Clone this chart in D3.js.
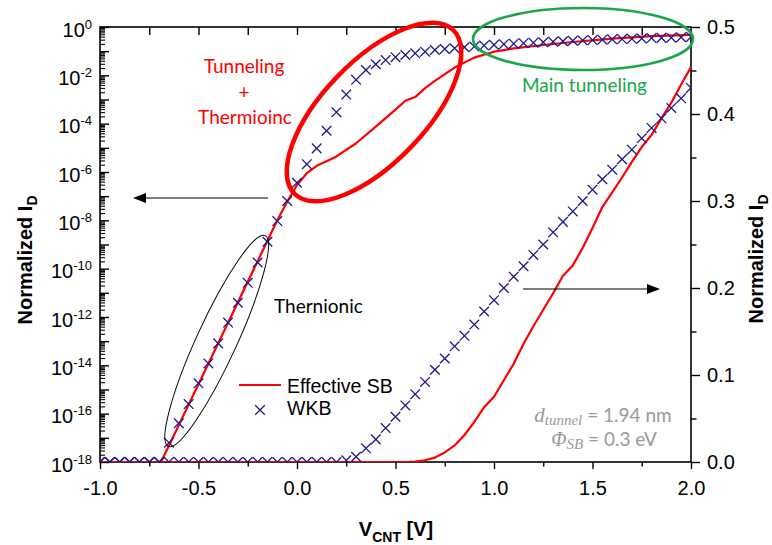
<!DOCTYPE html>
<html>
<head>
<meta charset="utf-8">
<script src="https://cdn.jsdelivr.net/npm/d3@7"></script>
<style>
  html, body { margin: 0; padding: 0; background: #fff; }
  svg { display: block; }
</style>
</head>
<body>
<svg id="chart" width="772" height="545"></svg>
<script>
// ---------------- data ----------------
const wkbV = [-1.00,-0.95,-0.90,-0.85,-0.80,-0.75,-0.70,-0.65,-0.60,-0.55,-0.50,-0.45,-0.40,-0.35,-0.30,-0.25,-0.20,-0.15,-0.10,-0.05,
  0.00,0.05,0.10,0.15,0.20,0.25,0.30,0.35,0.40,0.45,0.50,0.55,0.60,0.65,0.70,0.75,0.80,0.85,0.90,0.95,
  1.00,1.05,1.10,1.15,1.20,1.25,1.30,1.35,1.40,1.45,1.50,1.55,1.60,1.65,1.70,1.75,1.80,1.85,1.90,1.95,2.00];
// WKB, log scale (left axis)
const wkbLog = [1e-18,1e-18,1e-18,1e-18,1e-18,1e-18,1e-18,6.3e-18,4.0e-17,2.5e-16,1.8e-15,1.2e-14,8.1e-14,5.9e-13,3.9e-12,2.6e-11,1.8e-10,1.3e-9,9.3e-9,6.3e-8,
  3.6e-7,2.1e-6,9.5e-6,5.1e-5,3.0e-4,1.6e-3,6.5e-3,0.0166,0.0288,0.0427,0.0562,0.0692,0.0813,0.0955,0.112,0.123,0.132,0.145,0.155,0.170,
  0.182,0.195,0.204,0.214,0.224,0.234,0.245,0.257,0.269,0.279,0.288,0.299,0.309,0.316,0.324,0.335,0.347,0.355,0.363,0.376,0.389];
// WKB, linear scale (right axis)
const wkbLin = [0,0,0,0,0,0,0,0,0,0,0,0,0,0,0,0,0,0,0,0,
  0,0,0,0,0,0.002,0.006,0.0157,0.026,0.039,0.052,0.065,0.078,0.092,0.106,0.119,0.133,0.145,0.158,0.173,
  0.186,0.200,0.213,0.225,0.238,0.250,0.264,0.276,0.288,0.300,0.313,0.325,0.336,0.348,0.359,0.372,0.384,0.395,0.407,0.418,0.430];

// Effective SB, log scale (left axis)
const sbLogV = [-0.69,-0.10,-0.05,0.00,0.05,0.10,0.15,0.20,0.30,0.40,0.50,0.55,0.60,0.65,0.70,0.80,0.90,1.00,1.10,1.25,1.40,1.60,1.80,2.00];
const sbLog  = [1e-18,1.0e-8,5.9e-8,2.9e-7,8.9e-7,1.8e-6,2.8e-6,4.4e-6,1.55e-5,7.6e-5,3.8e-4,8.9e-4,1.26e-3,2.95e-3,5.9e-3,0.021,0.054,0.095,0.13,0.18,0.24,0.33,0.42,0.47];
// Effective SB, linear scale (right axis)
const sbLinV = [-1.00,0.55,0.60,0.65,0.70,0.75,0.80,0.85,0.90,0.95,1.00,1.05,1.10,1.15,1.20,1.25,1.30,1.35,1.40,1.45,1.50,1.55,1.60,1.65,1.70,1.75,1.80,1.85,1.90,1.95,2.00];
const sbLin  = [0,0,0.0005,0.002,0.005,0.011,0.019,0.031,0.046,0.063,0.075,0.094,0.113,0.136,0.156,0.175,0.194,0.214,0.226,0.246,0.269,0.293,0.310,0.327,0.345,0.362,0.376,0.395,0.413,0.434,0.454];

const xTicks = [-1.0,-0.5,0.0,0.5,1.0,1.5,2.0];
const xMinor = [-0.75,-0.25,0.25,0.75,1.25,1.75];
const xTop   = [-0.75,-0.5,-0.25,0,0.25,0.5,0.75,1.0,1.25,1.5,1.75];
const yLeftExp = [0,-1,-2,-3,-4,-5,-6,-7,-8,-9,-10,-11,-12,-13,-14,-15,-16,-17,-18];
const yRightTicks = [0.0,0.1,0.2,0.3,0.4,0.5];
const yRightMinor = [0.05,0.15,0.25,0.35,0.45];

// ---------------- layout ----------------
const L = 100, R = 691, T = 27, B = 462;
const svg = d3.select("#chart");
const x  = d3.scaleLinear([-1, 2], [L, R]);
const yL = d3.scaleLog([1e-18, 1], [B, T]);
const yR = d3.scaleLinear([0, 0.5], [B, T]);

const AX = "'Liberation Sans', Arial, sans-serif";
const ANN = "Lato, 'Open Sans', sans-serif";
const SERIF = "'Liberation Serif', 'Times New Roman', serif";
const NAVY = "#1a1a8f";
const RED = "#ff0000";

function styleAxis(g, sw) {
  g.select(".domain").remove();
  g.selectAll(".tick line").attr("stroke", "#000").attr("stroke-width", sw || 1.4);
  g.selectAll("text").attr("font-family", AX).attr("font-size", 20).attr("fill", "#000");
}

// left log axis: minor ticks
const minorL = [];
for (let k = -18; k < 0; k++) for (let m = 2; m <= 9; m++) minorL.push(m * Math.pow(10, k));
svg.append("g").attr("transform", `translate(${L},0)`)
  .call(d3.axisLeft(yL).tickValues(minorL).tickSize(-5).tickFormat(() => ""))
  .call(g => styleAxis(g, 1.1));
// left major
const gL = svg.append("g").attr("transform", `translate(${L},0)`)
  .call(d3.axisLeft(yL).tickValues(yLeftExp.map(e => Math.pow(10, e))).tickSize(-9).tickPadding(8).tickFormat(() => ""))
  .call(g => styleAxis(g, 1.4));
gL.selectAll(".tick text").each(function(d) {
  const e = Math.round(Math.log10(d));
  if (e % 2 !== 0) return;
  const t = d3.select(this).attr("dy", "0.45em");
  t.append("tspan").text("10");
  t.append("tspan").attr("font-size", 13).attr("dy", -8).text(String(e).replace("\u2212", "-"));
});

// right linear axis
svg.append("g").attr("transform", `translate(${R},0)`)
  .call(d3.axisRight(yR).tickValues(yRightMinor).tickSize(5.5).tickFormat(() => ""))
  .call(g => styleAxis(g, 1.4));
svg.append("g").attr("transform", `translate(${R},0)`)
  .call(d3.axisRight(yR).tickValues(yRightTicks).tickSize(9).tickPadding(7).tickFormat(d => d.toFixed(1)))
  .call(g => styleAxis(g, 1.4));

// bottom axis
svg.append("g").attr("transform", `translate(0,${B})`)
  .call(d3.axisBottom(x).tickValues(xMinor).tickSize(4.5).tickFormat(() => ""))
  .call(g => styleAxis(g, 1.4));
svg.append("g").attr("transform", `translate(0,${B})`)
  .call(d3.axisBottom(x).tickValues(xTicks).tickSize(7).tickPadding(12).tickFormat(d => d.toFixed(1)))
  .call(g => styleAxis(g, 1.4));

// top axis (inward ticks)
svg.append("g").attr("transform", `translate(0,${T})`)
  .call(d3.axisTop(x).tickValues(xTop).tickSize(-8).tickFormat(() => ""))
  .call(g => styleAxis(g, 1.4));

// frame
svg.append("rect").attr("x", L).attr("y", T).attr("width", R - L).attr("height", B - T)
  .attr("fill", "none").attr("stroke", "#000").attr("stroke-width", 1.6);

// clip
svg.append("clipPath").attr("id", "plotclip").append("rect")
  .attr("x", L).attr("y", T).attr("width", R - L).attr("height", B - T);
const plot = svg.append("g").attr("clip-path", "url(#plotclip)");

// lines
const lineLog = d3.line().x(d => x(d[0])).y(d => yL(d[1]));
const lineLin = d3.line().x(d => x(d[0])).y(d => yR(d[1]));
plot.append("path").datum(sbLinV.map((v, i) => [v, sbLin[i]]))
  .attr("d", lineLin).attr("fill", "none").attr("stroke", RED).attr("stroke-width", 2.2).attr("stroke-linejoin", "round");
plot.append("path").datum(sbLogV.map((v, i) => [v, sbLog[i]]))
  .attr("d", lineLog).attr("fill", "none").attr("stroke", RED).attr("stroke-width", 2.2).attr("stroke-linejoin", "round");

// markers
const crossPath = "M-4.8,-4.8L4.8,4.8M-4.8,4.8L4.8,-4.8";
function drawCrosses(data, ys) {
  plot.append("g").selectAll("path").data(data).join("path")
    .attr("d", crossPath)
    .attr("transform", d => `translate(${x(d[0])},${ys(d[1])})`)
    .attr("fill", "none").attr("stroke", NAVY).attr("stroke-width", 1.3);
}
drawCrosses(wkbV.map((v, i) => [v, wkbLin[i]]), yR);
drawCrosses(wkbV.map((v, i) => [v, wkbLog[i]]), yL);

// ---------------- annotations ----------------
// ellipses
svg.append("ellipse").attr("cx", 0).attr("cy", 0).attr("rx", 116).attr("ry", 20)
  .attr("transform", "translate(216.7,341) rotate(-65.3)")
  .attr("fill", "none").attr("stroke", "#000").attr("stroke-width", 1);
svg.append("ellipse").attr("cx", 0).attr("cy", 0).attr("rx", 114).attr("ry", 51)
  .attr("transform", "translate(374,112) rotate(-46)")
  .attr("fill", "none").attr("stroke", RED).attr("stroke-width", 4.5);
svg.append("ellipse").attr("cx", 583).attr("cy", 39).attr("rx", 110).attr("ry", 31)
  .attr("fill", "none").attr("stroke", "#1aa64a").attr("stroke-width", 2.6);

// arrows
function arrow(x1, x2, y) {
  const dir = Math.sign(x2 - x1);
  svg.append("line").attr("x1", x1).attr("x2", x2 - dir * 10).attr("y1", y).attr("y2", y)
    .attr("stroke", "#000").attr("stroke-width", 1.2);
  svg.append("path").attr("d", `M${x2},${y}L${x2 - dir * 13},${y - 5}L${x2 - dir * 13},${y + 5}Z`).attr("fill", "#000");
}
arrow(268, 133, 198);
arrow(523, 660, 289);

// red annotation text
const ann = svg.append("g").attr("font-family", ANN).attr("font-size", 19).attr("text-anchor", "middle").attr("fill", RED);
ann.append("text").attr("x", 244).attr("y", 73).text("Tunneling");
ann.append("text").attr("x", 244).attr("y", 99).text("+");
ann.append("text").attr("x", 245).attr("y", 124).text("Thermioinc");

svg.append("text").attr("x", 584.5).attr("y", 91.5).attr("text-anchor", "middle")
  .attr("font-family", ANN).attr("font-size", 19).attr("fill", "#1aa64a").text("Main tunneling");

svg.append("text").attr("x", 274).attr("y", 313).attr("font-family", ANN).attr("font-size", 19)
  .attr("fill", "#000").text("Thernionic");

// gray parameter text
const g1 = svg.append("text").attr("x", 603).attr("y", 421.5).attr("text-anchor", "middle").attr("fill", "#9a9a9a");
g1.append("tspan").attr("font-family", SERIF).attr("font-style", "italic").attr("font-size", 21).text("d");
g1.append("tspan").attr("font-family", SERIF).attr("font-style", "italic").attr("font-size", 15).attr("dy", 3).text("tunnel");
g1.append("tspan").attr("font-family", ANN).attr("font-size", 19).attr("dy", -3).text(" = 1.94 nm");
const g2 = svg.append("text").attr("x", 604).attr("y", 445.5).attr("text-anchor", "middle").attr("fill", "#9a9a9a");
g2.append("tspan").attr("font-family", SERIF).attr("font-style", "italic").attr("font-size", 20).text("\u03A6");
g2.append("tspan").attr("font-family", SERIF).attr("font-style", "italic").attr("font-size", 15).attr("dy", 3).text("SB");
g2.append("tspan").attr("font-family", ANN).attr("font-size", 19).attr("dy", -3).text(" = 0.3 eV");

// legend
svg.append("line").attr("x1", 239).attr("x2", 281).attr("y1", 385).attr("y2", 385)
  .attr("stroke", RED).attr("stroke-width", 2.2);
svg.append("path").attr("d", crossPath).attr("transform", "translate(260,410)")
  .attr("fill", "none").attr("stroke", NAVY).attr("stroke-width", 1.3);
svg.append("text").attr("x", 287).attr("y", 392.5).attr("font-family", AX).attr("font-size", 19.5).text("Effective SB");
svg.append("text").attr("x", 287).attr("y", 415).attr("font-family", AX).attr("font-size", 19.5).text("WKB");

// axis titles
const tx = svg.append("text").attr("x", 396).attr("y", 536).attr("text-anchor", "middle")
  .attr("font-family", AX).attr("font-weight", "bold").attr("font-size", 20);
tx.append("tspan").text("V");
tx.append("tspan").attr("font-size", 14).attr("dy", 6).text("CNT");
tx.append("tspan").attr("dy", -6).text(" [V]");

function yTitle(px, py) {
  const t = svg.append("text").attr("transform", `translate(${px},${py}) rotate(-90)`).attr("text-anchor", "middle")
    .attr("font-family", AX).attr("font-weight", "bold").attr("font-size", 20);
  t.append("tspan").text("Normalized I");
  t.append("tspan").attr("font-size", 14).attr("dy", 5).text("D");
}
yTitle(32, 260);
yTitle(763, 259);
</script>
</body>
</html>
